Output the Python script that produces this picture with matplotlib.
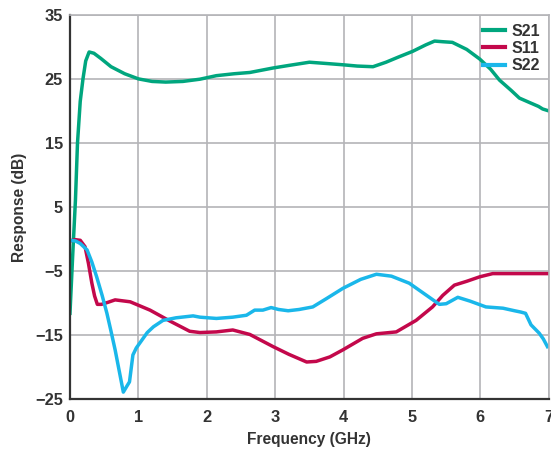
import matplotlib.pyplot as plt

# Data
s21_freq = [0.0, 0.04, 0.08, 0.11, 0.15, 0.19, 0.23, 0.28, 0.35, 0.45, 0.6, 0.8, 1.0, 1.2, 1.4,
            1.65, 1.9, 2.14, 2.4, 2.63, 2.97, 3.2, 3.5, 3.75, 3.99, 4.2, 4.43, 4.62, 4.8, 5.01,
            5.2, 5.33, 5.45, 5.59, 5.8, 5.99, 6.15, 6.28, 6.45, 6.57, 6.72, 6.85, 6.91, 7.0]
s21_db = [-11.6, -2.5, 6.1, 15.0, 21.5, 25.0, 27.8, 29.2, 29.0, 28.2, 26.9, 25.8, 25.0, 24.6, 24.5,
          24.6, 24.95, 25.5, 25.8, 26.0, 26.7, 27.1, 27.6, 27.4, 27.2, 27.0, 26.9, 27.6, 28.4, 29.3,
          30.3, 30.9, 30.8, 30.7, 29.6, 28.1, 26.5, 24.8, 23.2, 22.0, 21.3, 20.7, 20.3, 20.0]

s11_freq = [0.0, 0.08, 0.15, 0.22, 0.27, 0.32, 0.36, 0.40, 0.46, 0.55, 0.66, 0.88, 1.17, 1.46,
            1.75, 1.9, 2.14, 2.38, 2.63, 2.97, 3.2, 3.46, 3.6, 3.8, 3.99, 4.28, 4.48, 4.77, 5.06,
            5.3, 5.45, 5.62, 5.8, 5.99, 6.18, 6.5, 7.0]
s11_db = [-0.3, -0.1, -0.2, -1.2, -3.8, -6.9, -8.9, -10.2, -10.2, -9.9, -9.5, -9.8, -11.1, -12.8,
          -14.4, -14.6, -14.5, -14.2, -14.9, -16.8, -18.0, -19.2, -19.1, -18.4, -17.3, -15.5, -14.8,
          -14.5, -12.7, -10.6, -8.8, -7.2, -6.6, -5.9, -5.4, -5.4, -5.4]

s22_freq = [0.0, 0.08, 0.15, 0.25, 0.32, 0.39, 0.47, 0.54, 0.6, 0.66, 0.72, 0.78, 0.83, 0.87,
            0.92, 0.97, 1.05, 1.13, 1.22, 1.36, 1.55, 1.8, 1.9, 2.14, 2.38, 2.58, 2.7, 2.82, 2.94,
            3.05, 3.19, 3.35, 3.55, 3.75, 3.99, 4.25, 4.48, 4.7, 4.96, 5.2, 5.4, 5.5, 5.67, 5.85,
            6.08, 6.33, 6.5, 6.59, 6.66, 6.74, 6.86, 6.92, 6.98]
s22_db = [-0.2, -0.3, -0.7, -1.7, -3.6, -5.9, -8.8, -11.6, -14.4, -17.3, -20.6, -23.9, -23.0, -22.3,
          -18.1, -17.0, -15.8, -14.6, -13.7, -12.7, -12.3, -12.0, -12.2, -12.4, -12.2, -11.9, -11.1,
          -11.1, -10.7, -11.0, -11.2, -11.0, -10.6, -9.3, -7.7, -6.3, -5.5, -5.8, -6.9, -8.7, -10.2,
          -10.1, -9.1, -9.7, -10.6, -10.8, -11.2, -11.4, -11.6, -13.4, -14.7, -15.6, -16.8]

fig = plt.figure(figsize=(5.51, 4.49), dpi=100)
ax = fig.add_axes([0.127, 0.111, 0.869, 0.856])

ax.plot(s21_freq, s21_db, color='#00a67e', lw=2.5, label='S21', solid_joinstyle='round')
ax.plot(s11_freq, s11_db, color='#c3084b', lw=2.5, label='S11', solid_joinstyle='round')
ax.plot(s22_freq, s22_db, color='#1ab7ea', lw=2.5, label='S22', solid_joinstyle='round')

ax.set_xlim(0, 7)
ax.set_ylim(-25, 35)
ax.set_xticks(range(0, 8))
ax.set_yticks(range(-25, 36, 10))
ax.grid(True, color='#b4b4b8', lw=1.2)
ax.set_axisbelow(True)
ax.tick_params(length=0, pad=5, labelsize=11.8, labelcolor='#333333')
ax.tick_params(axis='x', pad=8)
for lab in ax.get_xticklabels() + ax.get_yticklabels():
    lab.set_fontweight('bold')
    lab.set_fontfamily('Liberation Sans')

for side in ['top', 'right']:
    ax.spines[side].set_color('#b4b4b8')
    ax.spines[side].set_linewidth(1.2)
for side in ['left', 'bottom']:
    ax.spines[side].set_color('#333333')
    ax.spines[side].set_linewidth(1.6)

ax.set_xlabel('Frequency (GHz)', fontsize=11.2, fontweight='bold', color='#333333',
              family='Liberation Sans', labelpad=5)
ax.set_ylabel('Response (dB)', fontsize=11.2, fontweight='bold', color='#333333',
              family='Liberation Sans', labelpad=6)

leg = ax.legend(loc='upper right', frameon=False, handlelength=1.4, handletextpad=0.4,
                labelspacing=0.15, borderaxespad=0.15,
                prop={'family': 'Liberation Sans', 'weight': 'bold', 'size': 11.5})
for t in leg.get_texts():
    t.set_color('#333333')
for h in leg.get_lines():
    h.set_linewidth(3)

fig.savefig('out.png', dpi=100)
